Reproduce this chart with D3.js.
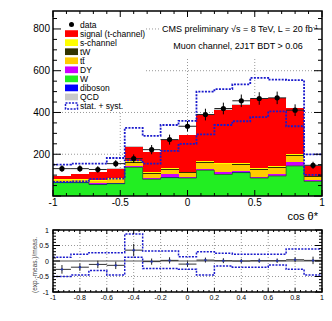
<!DOCTYPE html>
<html>
<head>
<meta charset="utf-8">
<script src="https://cdn.jsdelivr.net/npm/d3@7"></script>
<style>
body { margin: 0; background: #fff; }
text { font-family: "Liberation Sans", Arial, sans-serif; }
</style>
</head>
<body>
<svg width="332" height="321"></svg>
<script>
// bin edges in cos theta* (15 bins)
const binEdges = [-1, -0.8667, -0.7333, -0.6, -0.4667, -0.3333, -0.2, -0.0667, 0.0667, 0.2, 0.3333, 0.4667, 0.6, 0.7333, 0.8667, 1];

// stacked MC, bottom to top
const wJets    = [64, 64, 55, 59, 137, 80, 88, 86, 123, 103, 112, 86, 96, 144, 70];
const diboson  = [1, 1, 1, 1, 1, 1, 1, 1, 1, 1, 1, 1, 1, 1, 1];
const dy       = [3, 3, 4, 4, 5, 6, 16, 5, 5, 12, 5, 5, 8, 16, 6];
const ttbar    = [8, 9, 12, 16, 16, 20, 21, 18, 30, 35, 30, 33, 30, 31, 14];
const tW       = [2, 2, 2, 2, 4, 3, 3, 3, 4, 4, 4, 3, 4, 5, 3];
const sChannel = [2, 2, 2, 2, 4, 3, 3, 3, 4, 4, 4, 4, 4, 4, 3];
const signal   = [15, 24, 38, 46, 70, 96, 136, 175, 223, 255, 282, 333, 324, 219, 49];
const qcd      = [2, 2, 2, 2, 4, 3, 3, 3, 3, 3, 3, 3, 4, 3, 2];

const dataVals = [131, 131, 127, 155, 179, 222, 270, 334, 390, 419, 456, 467, 470, 411, 147];
const dataErr  = [16, 16, 16, 17, 20, 22, 24, 25, 28, 28, 30, 30, 30, 28, 17];

// stat. + syst. envelope
const bandUp   = [150, 155, 155, 182, 326, 288, 340, 360, 500, 512, 535, 566, 557, 555, 199];
const bandDown = [67, 70, 82, 83, 171, 155, 216, 250, 295, 340, 358, 378, 405, 334, 101];

// ratio panel
const ratioVals = [-0.27, -0.2, -0.11, -0.14, 0.35, -0.02, 0.02, -0.1, 0.03, 0.01, 0.0, 0.01, 0.01, 0.04, 0.02];
const ratioErr  = [0.14, 0.12, 0.12, 0.12, 0.2, 0.1, 0.1, 0.09, 0.08, 0.08, 0.07, 0.07, 0.07, 0.08, 0.12];
const ratioUp   = [0.12, 0.22, 0.27, 0.27, 0.87, 0.32, 0.32, 0.14, 0.3, 0.25, 0.22, 0.22, 0.22, 0.39, 0.39];
const ratioDown = [-0.5, -0.45, -0.31, -0.45, 0.12, -0.24, -0.24, -0.27, -0.45, -0.16, -0.2, -0.2, -0.13, -0.27, -0.45];

const mainYTicks = [200, 400, 600, 800];
const mainXTicks = [-1, -0.5, 0, 0.5, 1];
const mainXLabels = ["-1", "-0.5", "0", "0.5", "1"];
const ratioYTicks = [1, 0.5, 0, -0.5, -1];
const ratioYLabels = ["1", "0.5", "0", "-0.5", "-1"];
const ratioXTicks = [-1, -0.8, -0.6, -0.4, -0.2, 0, 0.2, 0.4, 0.6, 0.8, 1];
const ratioXLabels = ["-1", "-0.8", "-0.6", "-0.4", "-0.2", "0", "0.2", "0.4", "0.6", "0.8", "1"];

const legendNames = ["signal (t-channel)", "s-channel", "tW", "t\u0074\u0304", "DY", "W", "diboson", "QCD"];
const legendKeys  = ["signal", "sch", "tw", "tt", "dy", "w", "diboson", "qcd"];

const colors = {
    w: "#22ee22", diboson: "#0000ff", dy: "#cc00ff", tt: "#ffcc00",
    tw: "#333300", sch: "#ffff00", signal: "#ff0000", qcd: "#c8c8c8"
};
const bandColor = "#1a1acc";

var svg = d3.select("svg");

var x = d3.scaleLinear().domain([-1, 1]).range([53, 322]);
var y = d3.scaleLinear().domain([0, 886]).range([196, 11]);
var yr = d3.scaleLinear().domain([-1, 1]).range([292, 230]);

function drawMain() {
    // grid
    svg.selectAll(".gx").data([-0.5, 0, 0.5]).enter().append("line")
        .attr("x1", d => x(d)).attr("x2", d => x(d))
        .attr("y1", 11).attr("y2", 196)
        .attr("stroke", "#999").attr("stroke-dasharray", "1,2");
    svg.selectAll(".gy").data(mainYTicks).enter().append("line")
        .attr("x1", 53).attr("x2", 322)
        .attr("y1", d => y(d)).attr("y2", d => y(d))
        .attr("stroke", "#999").attr("stroke-dasharray", "1,2");

    // stack
    const keys = ["w", "diboson", "dy", "tt", "tw", "sch", "signal", "qcd"];
    const rows = wJets.map((v, i) => ({
        w: v, diboson: diboson[i], dy: dy[i], tt: ttbar[i],
        tw: tW[i], sch: sChannel[i], signal: signal[i], qcd: qcd[i]
    }));
    const series = d3.stack().keys(keys)(rows);

    series.forEach(function(s) {
        svg.append("g").selectAll("rect").data(s).enter().append("rect")
            .attr("x", (d, i) => x(binEdges[i]))
            .attr("width", (d, i) => x(binEdges[i + 1]) - x(binEdges[i]))
            .attr("y", d => y(d[1]))
            .attr("height", d => Math.max(0, y(d[0]) - y(d[1])))
            .attr("fill", colors[s.key])
            .attr("shape-rendering", "crispEdges");
    });

    // outline on top of W
    const wTop = [];
    series[0].forEach((d, i) => { wTop.push([binEdges[i], d[1]]); wTop.push([binEdges[i + 1], d[1]]); });
    svg.append("path")
        .attr("d", d3.line().x(d => x(d[0])).y(d => y(d[1]))(wTop))
        .attr("fill", "none").attr("stroke", "#335533").attr("stroke-width", 0.8);

    // stat + syst band
    [bandUp, bandDown].forEach(function(arr) {
        const pts = [];
        arr.forEach((v, i) => { pts.push([binEdges[i], v]); pts.push([binEdges[i + 1], v]); });
        svg.append("path")
            .attr("d", d3.line().x(d => x(d[0])).y(d => y(d[1]))(pts))
            .attr("fill", "none").attr("stroke", bandColor)
            .attr("stroke-width", 1.8).attr("stroke-dasharray", "2,1.3");
    });

    // data
    const g = svg.append("g");
    dataVals.forEach(function(v, i) {
        const cx = x((binEdges[i] + binEdges[i + 1]) / 2);
        g.append("line").attr("x1", x(binEdges[i])).attr("x2", x(binEdges[i + 1]))
            .attr("y1", y(v)).attr("y2", y(v)).attr("stroke", "#222").attr("stroke-width", 1);
        g.append("line").attr("x1", cx).attr("x2", cx)
            .attr("y1", y(v - dataErr[i])).attr("y2", y(v + dataErr[i]))
            .attr("stroke", "#000").attr("stroke-width", 1);
        g.append("circle").attr("cx", cx).attr("cy", y(v)).attr("r", 2.6).attr("fill", "#000");
    });

    // legend
    svg.append("rect").attr("x", 54).attr("y", 12).attr("width", 92).attr("height", 99).attr("fill", "#fff");
    const lg = svg.append("g").style("font-size", "8.5px");
    const rowY = i => 24.5 + 9.05 * i;
    lg.append("circle").attr("cx", 71.5).attr("cy", rowY(0)).attr("r", 2.5).attr("fill", "#000");
    lg.append("text").attr("x", 80).attr("y", rowY(0) + 3).text("data");
    legendKeys.forEach(function(k, i) {
        lg.append("rect").attr("x", 65).attr("y", rowY(i + 1) - 3.3).attr("width", 13).attr("height", 6.7)
            .attr("fill", colors[k]);
        lg.append("text").attr("x", 80).attr("y", rowY(i + 1) + 3).text(legendNames[i]);
    });
    lg.append("rect").attr("x", 65.5).attr("y", rowY(9) - 3).attr("width", 12).attr("height", 6)
        .attr("fill", "none").attr("stroke", bandColor).attr("stroke-width", 1.5).attr("stroke-dasharray", "2,1.3");
    lg.append("text").attr("x", 80).attr("y", rowY(9) + 3).text("stat. + syst.");

    // header text
    svg.append("rect").attr("x", 161).attr("y", 12).attr("width", 160).attr("height", 46).attr("fill", "#fff");
    const t1 = svg.append("text").attr("x", 162).attr("y", 32).style("font-size", "9px");
    t1.append("tspan").text("CMS preliminary \u221As = 8 TeV, L = 20 fb");
    t1.append("tspan").attr("dy", -3.5).style("font-size", "6px").text("-1");
    svg.append("text").attr("x", 238).attr("y", 49).attr("text-anchor", "middle")
        .style("font-size", "9px").text("Muon channel, 2J1T BDT > 0.06");

    // frame
    svg.append("rect").attr("x", 53).attr("y", 11).attr("width", 269).attr("height", 185)
        .attr("fill", "none").attr("stroke", "#000").attr("stroke-width", 1.5);

    // ticks
    const tk = svg.append("g").attr("stroke", "#000").attr("stroke-width", 1);
    d3.range(0, 886, 50).forEach(function(v) {
        const len = v % 200 === 0 ? 8 : 4;
        tk.append("line").attr("x1", 53).attr("x2", 53 + len).attr("y1", y(v)).attr("y2", y(v));
        tk.append("line").attr("x1", 322).attr("x2", 322 - len).attr("y1", y(v)).attr("y2", y(v));
    });
    d3.range(0, 21).forEach(function(k) {
        const v = -1 + k * 0.1;
        const len = k % 5 === 0 ? 6 : 3;
        tk.append("line").attr("x1", x(v)).attr("x2", x(v)).attr("y1", 196).attr("y2", 196 - len);
        tk.append("line").attr("x1", x(v)).attr("x2", x(v)).attr("y1", 11).attr("y2", 11 + len);
    });

    // tick labels
    svg.selectAll(".ylab").data(mainYTicks).enter().append("text")
        .attr("x", 50).attr("y", d => y(d) + 3.5).attr("text-anchor", "end")
        .style("font-size", "10px").text(d => d);
    svg.selectAll(".xlab").data(mainXTicks).enter().append("text")
        .attr("x", d => x(d)).attr("y", 206).attr("text-anchor", "middle")
        .style("font-size", "10px").text((d, i) => mainXLabels[i]);
    svg.append("text").attr("x", 318).attr("y", 220).attr("text-anchor", "end")
        .style("font-size", "11px").text("cos \u03B8*");
}

function drawRatio() {
    // grid
    svg.selectAll(".rgx").data(ratioXTicks.slice(1, -1)).enter().append("line")
        .attr("x1", d => x(d)).attr("x2", d => x(d))
        .attr("y1", 230).attr("y2", 292)
        .attr("stroke", "#999").attr("stroke-dasharray", "1,2");
    svg.selectAll(".rgy").data([0.5, -0.5]).enter().append("line")
        .attr("x1", 53).attr("x2", 322)
        .attr("y1", d => yr(d)).attr("y2", d => yr(d))
        .attr("stroke", "#999").attr("stroke-dasharray", "1,2");
    svg.append("line").attr("x1", 53).attr("x2", 322).attr("y1", yr(0)).attr("y2", yr(0))
        .attr("stroke", "#555").attr("stroke-width", 1.2);

    // band
    [ratioUp, ratioDown].forEach(function(arr) {
        const pts = [];
        arr.forEach((v, i) => { pts.push([binEdges[i], v]); pts.push([binEdges[i + 1], v]); });
        svg.append("path")
            .attr("d", d3.line().x(d => x(d[0])).y(d => yr(d[1]))(pts))
            .attr("fill", "none").attr("stroke", bandColor)
            .attr("stroke-width", 1.5).attr("stroke-dasharray", "2,1.3");
    });

    // points
    const g = svg.append("g");
    ratioVals.forEach(function(v, i) {
        const cx = x((binEdges[i] + binEdges[i + 1]) / 2);
        g.append("line").attr("x1", x(binEdges[i])).attr("x2", x(binEdges[i + 1]))
            .attr("y1", yr(v)).attr("y2", yr(v)).attr("stroke", "#333").attr("stroke-width", 1);
        g.append("line").attr("x1", cx).attr("x2", cx)
            .attr("y1", yr(v - ratioErr[i])).attr("y2", yr(v + ratioErr[i]))
            .attr("stroke", "#222").attr("stroke-width", 1);
        g.append("circle").attr("cx", cx).attr("cy", yr(v)).attr("r", 1.2).attr("fill", "#2233aa");
    });

    // frame
    svg.append("rect").attr("x", 53).attr("y", 230).attr("width", 269).attr("height", 62)
        .attr("fill", "none").attr("stroke", "#000").attr("stroke-width", 1.5);

    // ticks
    const tk = svg.append("g").attr("stroke", "#000").attr("stroke-width", 1);
    d3.range(0, 21).forEach(function(k) {
        const v = -1 + k * 0.1;
        const len = k % 5 === 0 ? 7 : 3;
        tk.append("line").attr("x1", 53).attr("x2", 53 + len).attr("y1", yr(v)).attr("y2", yr(v));
        tk.append("line").attr("x1", 322).attr("x2", 322 - len).attr("y1", yr(v)).attr("y2", yr(v));
    });
    d3.range(0, 51).forEach(function(k) {
        const v = -1 + k * 0.04;
        const len = k % 5 === 0 ? 4 : 2;
        tk.append("line").attr("x1", x(v)).attr("x2", x(v)).attr("y1", 292).attr("y2", 292 - len);
        tk.append("line").attr("x1", x(v)).attr("x2", x(v)).attr("y1", 230).attr("y2", 230 + len);
    });

    // labels
    svg.selectAll(".rylab").data(ratioYTicks).enter().append("text")
        .attr("x", 49).attr("y", d => yr(d) + 2.5).attr("text-anchor", "end")
        .style("font-size", "7px").text((d, i) => ratioYLabels[i]);
    svg.selectAll(".rxlab").data(ratioXTicks).enter().append("text")
        .attr("x", d => x(d)).attr("y", 299.5).attr("text-anchor", "middle")
        .style("font-size", "7px").text((d, i) => ratioXLabels[i]);
    svg.append("text")
        .attr("transform", "translate(37,265)rotate(-90)")
        .attr("text-anchor", "middle").attr("fill", "#444")
        .style("font-size", "6.5px").text("(exp.-meas.)/meas.");
}

drawMain();
drawRatio();
</script>
</body>
</html>
